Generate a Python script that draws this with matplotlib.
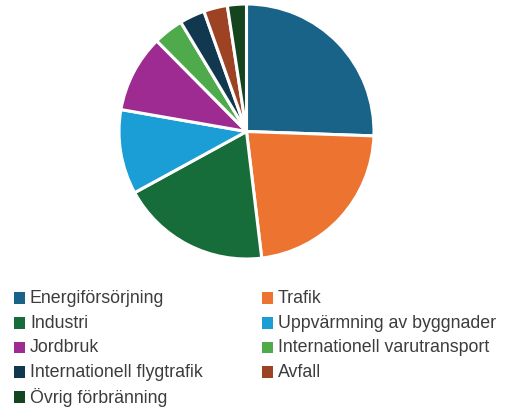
import matplotlib

matplotlib.use("Agg")
import matplotlib.pyplot as plt
from matplotlib.patches import Rectangle

plt.rcParams["font.family"] = ["Liberation Sans", "DejaVu Sans"]

# emissions share per sector (%)
sectors = [
    "Energiförsörjning",
    "Trafik",
    "Industri",
    "Uppvärmning av byggnader",
    "Jordbruk",
    "Internationell varutransport",
    "Internationell flygtrafik",
    "Avfall",
    "Övrig förbränning",
]
shares = [25.5, 22.5, 18.9, 10.7, 9.8, 3.8, 3.2, 3.0, 2.4]
colors = [
    "#1a6388",
    "#ed7430",
    "#176d3a",
    "#1b9dd6",
    "#9d2b91",
    "#4eaa4b",
    "#12384f",
    "#9d4324",
    "#15451f",
]

W, H = 510, 407
fig = plt.figure(figsize=(W / 100, H / 100), dpi=100)

# pie centred at (246.5, 131.5) px, radius 127.5 px
cx, cy, r = 246.5, 131.5, 127.5
ax = fig.add_axes([(cx - r) / W, (H - cy - r) / H, 2 * r / W, 2 * r / H])
ax.pie(
    shares,
    colors=colors,
    startangle=90,
    counterclock=False,
    radius=1,
    wedgeprops={"edgecolor": "white", "linewidth": 2.2},
)
ax.set_xlim(-1, 1)
ax.set_ylim(-1, 1)
ax.set_aspect("equal")
ax.axis("off")

# legend, two columns, row-major
lg = fig.add_axes([0, 0, 1, 1])
lg.set_xlim(0, W)
lg.set_ylim(H, 0)
lg.axis("off")
col_x = [14, 262]
row_y0, row_dy = 298, 24.75
for i, (name, c) in enumerate(zip(sectors, colors)):
    x = col_x[i % 2]
    y = row_y0 + (i // 2) * row_dy
    lg.add_patch(Rectangle((x, y - 5.8), 11.3, 11.6, facecolor=c, edgecolor="none"))
    lg.text(x + 16, y + 0.5, name, fontsize=12.8, color="#3c3c3c", va="center", ha="left")

fig.savefig("out.png", dpi=100)
